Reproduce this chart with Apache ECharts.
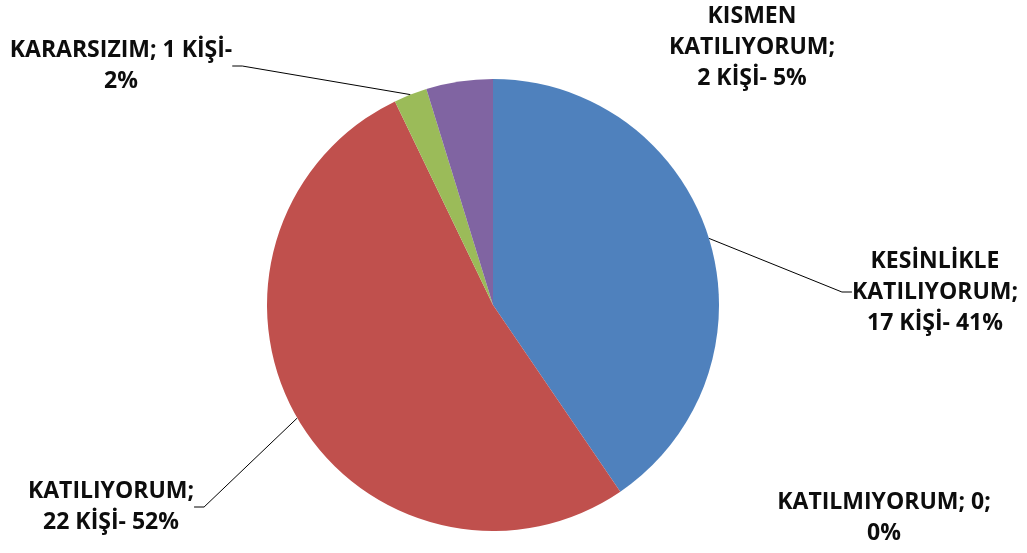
<!DOCTYPE html>
<html>
<head>
<meta charset="utf-8">
<script src="https://cdn.jsdelivr.net/npm/echarts@6/dist/echarts.min.js"></script>
<style>
  html, body { margin: 0; padding: 0; background: #fff; }
  #pieChart { width: 1027px; height: 553px; }
</style>
</head>
<body>
<div id="pieChart"></div>
<script>
// answers in slice order (clockwise from 12 o'clock)
var answers = ['KESİNLİKLE KATILIYORUM', 'KATILMIYORUM', 'KATILIYORUM', 'KARARSIZIM', 'KISMEN KATILIYORUM'];
var people = [17, 0, 22, 1, 2];
var percents = [41, 0, 52, 2, 5];
var sliceColors = ['#4F81BD', '#8EB4E3', '#C0504D', '#9BBB59', '#8064A2'];

// label box centre, words per line, leader line on/off
var labelSpots = [
    { x: 935, y: 292, wrap: [1, 1, 3], line: true },
    { x: 884, y: 518, wrap: [2, 1], line: false },
    { x: 111, y: 507, wrap: [1, 3], line: true },
    { x: 121, y: 66, wrap: [3, 1], line: true },
    { x: 752, y: 47, wrap: [1, 1, 3], line: false }
];

var chart = echarts.init(document.getElementById('pieChart'));

var pieData = answers.map(function (name, i) {
    return {
        name: name,
        value: people[i],
        itemStyle: { color: sliceColors[i] },
        labelLine: { show: labelSpots[i].line }
    };
});

function labelText(p) {
    var i = p.dataIndex;
    var txt = people[i] === 0
        ? p.name + '; ' + people[i] + '; ' + percents[i] + '%'
        : p.name + '; ' + people[i] + ' KİŞİ- ' + percents[i] + '%';
    var words = txt.split(' ');
    var lines = [];
    var k = 0;
    labelSpots[i].wrap.forEach(function (n) {
        lines.push(words.slice(k, k + n).join(' '));
        k += n;
    });
    return lines.join('\n');
}

var option = {
    animation: false,
    series: [
        {
            type: 'pie',
            center: [493, 305],
            radius: 226,
            startAngle: 90,
            clockwise: true,
            avoidLabelOverlap: false,
            data: pieData,
            label: {
                show: true,
                position: 'outside',
                fontFamily: 'Open Sans',
                fontWeight: 'bold',
                fontSize: 23,
                lineHeight: 31,
                color: '#0d0d0d',
                align: 'center',
                formatter: labelText
            },
            labelLine: {
                show: true,
                length: 10,
                length2: 10,
                smooth: false,
                lineStyle: { color: '#000', width: 1 }
            },
            labelLayout: function (params) {
                var s = labelSpots[params.dataIndex];
                return {
                    x: s.x,
                    y: s.y,
                    align: 'center',
                    verticalAlign: 'middle'
                };
            },
            emphasis: { disabled: true }
        }
    ]
};

chart.setOption(option);
</script>
</body>
</html>
